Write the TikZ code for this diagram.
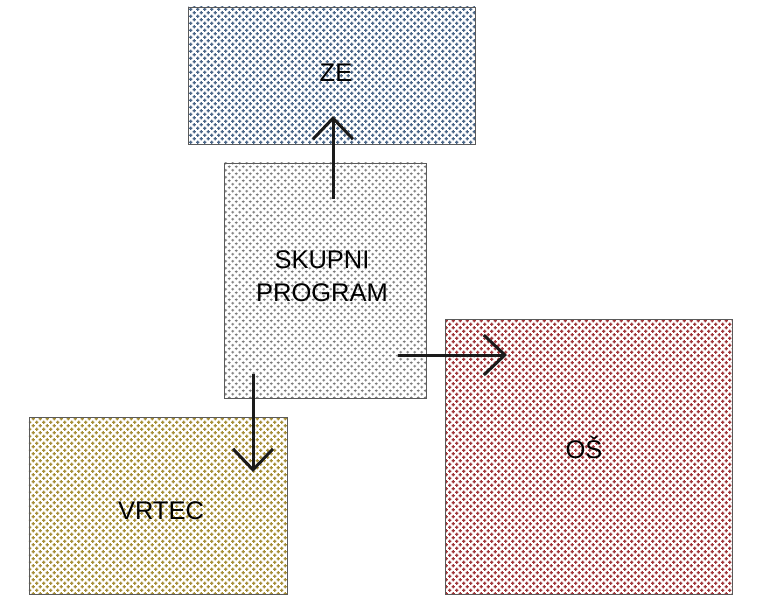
\documentclass[tikz,border=0pt]{standalone}
\usepackage{fontspec}
\setmainfont{Liberation Sans}
\usetikzlibrary{patterns,arrows.meta}
\pgfdeclarepatternformonly{plusdots}{\pgfpoint{-1bp}{-1bp}}{\pgfpoint{8bp}{8bp}}{\pgfpoint{7bp}{7bp}}{%
  \pgfpathrectangle{\pgfpoint{0.2bp}{1.1bp}}{\pgfpoint{3.2bp}{1.3bp}}%
  \pgfpathrectangle{\pgfpoint{1.15bp}{0.15bp}}{\pgfpoint{1.3bp}{3.2bp}}%
  \pgfpathrectangle{\pgfpoint{3.7bp}{4.6bp}}{\pgfpoint{3.2bp}{1.3bp}}%
  \pgfpathrectangle{\pgfpoint{4.65bp}{3.65bp}}{\pgfpoint{1.3bp}{3.2bp}}%
  \pgfusepath{fill}}
\pgfdeclarepatternformonly{thinplus}{\pgfpoint{-1bp}{-1bp}}{\pgfpoint{8bp}{8bp}}{\pgfpoint{7bp}{7bp}}{%
  \pgfpathrectangle{\pgfpoint{0.4bp}{1.35bp}}{\pgfpoint{2.7bp}{0.9bp}}%
  \pgfpathrectangle{\pgfpoint{1.3bp}{0.45bp}}{\pgfpoint{0.9bp}{2.7bp}}%
  \pgfpathrectangle{\pgfpoint{3.9bp}{4.85bp}}{\pgfpoint{2.7bp}{0.9bp}}%
  \pgfpathrectangle{\pgfpoint{4.8bp}{3.95bp}}{\pgfpoint{0.9bp}{2.7bp}}%
  \pgfusepath{fill}}
\definecolor{zeblue}{HTML}{4A6688}
\definecolor{vrgold}{HTML}{A68E38}
\definecolor{osred}{HTML}{A0363A}
\definecolor{spgray}{HTML}{7A7A7A}
\definecolor{edgegray}{HTML}{5A5A5A}
\definecolor{arrowblack}{HTML}{1A1A1A}
\tikzset{
  boxnode/.style={draw=edgegray, line width=0.9bp, rectangle, inner sep=0pt},
  labeltext/.style={font=\fontsize{25.5bp}{32.5bp}\selectfont, align=center, inner sep=0pt, text=black},
  flowarrow/.style={draw=arrowblack, line width=3bp, -{Straight Barb[length=21bp, width=40bp, line width=3bp]}}
}
\begin{document}
\begin{tikzpicture}[x=1bp, y=-1bp]
\useasboundingbox[fill=white] (0,0) rectangle (757,613);
% boxes
\node[boxnode, pattern=plusdots, pattern color=zeblue, minimum width=287bp, minimum height=137bp] (ze) at (331.5,75.5) {};
\node[boxnode, pattern=thinplus, pattern color=spgray, minimum width=202bp, minimum height=235bp] (sp) at (325,280.5) {};
\node[boxnode, pattern=plusdots, pattern color=vrgold, minimum width=258bp, minimum height=177bp] (vr) at (158,505.5) {};
\node[boxnode, pattern=plusdots, pattern color=osred, minimum width=287bp, minimum height=275bp] (os) at (588.5,456.5) {};
% texts
\node[labeltext] (zet) at (336,73) {ZE};
\node[labeltext] (spt) at (322,276) {SKUPNI\\PROGRAM};
\node[labeltext] (vrt) at (161,511) {VRTEC};
\node[labeltext] (ost) at (584,447) {OŠ};
% arrow end points
\coordinate (upS) at (333,199);
\coordinate (upE) at (333,116);
\coordinate (rtS) at (398,355);
\coordinate (rtE) at (507,355);
\coordinate (dnS) at (253,374);
\coordinate (dnE) at (253,472);
\draw[flowarrow] (upS) -- (upE);
\draw[flowarrow] (rtS) -- (rtE);
\draw[flowarrow] (dnS) -- (dnE);
\end{tikzpicture}
\end{document}
